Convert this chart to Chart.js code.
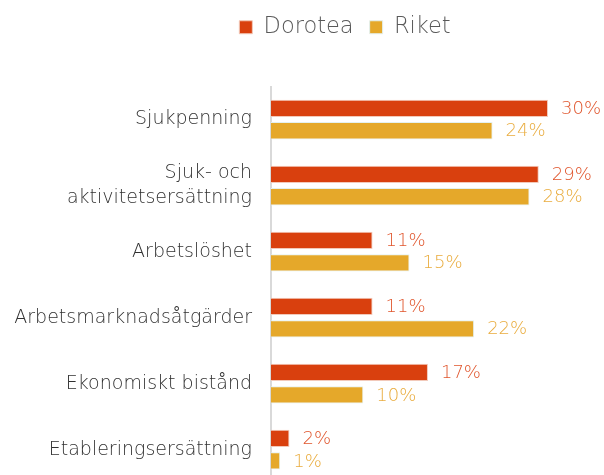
<!DOCTYPE html>
<html>
<head>
<meta charset="utf-8">
<script src="https://cdn.jsdelivr.net/npm/chart.js@4"></script>
<style>
  html, body { margin: 0; padding: 0; background: #fff; overflow: hidden; }
</style>
</head>
<body>
<canvas id="ersChart" width="604" height="514"></canvas>
<script>
// Ersättningar, andel per kategori
const categories = [
  'Sjukpenning',
  ['Sjuk- och', 'aktivitetsersättning'],
  'Arbetslöshet',
  'Arbetsmarknadsåtgärder',
  'Ekonomiskt bistånd',
  'Etableringsersättning'
];
const dorotea = [30, 29, 11, 11, 17, 2];
const riket = [24, 28, 15, 22, 10, 1];

const FONT = "'DejaVu Sans', sans-serif";

// value labels at the end of each bar
const valueLabels = {
  id: 'valueLabels',
  afterDatasetsDraw(chart) {
    const ctx = chart.ctx;
    ctx.save();
    ctx.font = '200 18px ' + FONT;
    ctx.textBaseline = 'middle';
    ctx.textAlign = 'left';
    chart.data.datasets.forEach((ds, i) => {
      const meta = chart.getDatasetMeta(i);
      ctx.fillStyle = ds.labelColor;
      meta.data.forEach((bar, j) => {
        ctx.fillText(ds.data[j] + '%', bar.x + 13, bar.y + 1);
      });
    });
    ctx.restore();
  }
};

// more room under the legend, and legend pushed a bit to the right
const legendTweak = {
  id: 'legendTweak',
  beforeInit(chart) {
    const fit = chart.legend.fit;
    chart.legend.fit = function () {
      fit.bind(chart.legend)();
      this.height += 38;
    };
  },
  afterLayout(chart) {
    chart.legend.left += 71;
    chart.legend.right += 71;
  }
};

new Chart(document.getElementById('ersChart'), {
  type: 'bar',
  data: {
    labels: categories,
    datasets: [{
      label: 'Dorotea',
      data: dorotea,
      backgroundColor: '#D9400E',
      borderColor: '#F2C9BA',
      borderWidth: 1,
      labelColor: '#E0552C'
    }, {
      label: 'Riket',
      data: riket,
      backgroundColor: '#E5A82A',
      borderColor: '#E3F1EF',
      borderWidth: 1,
      labelColor: '#E9AC3E'
    }]
  },
  options: {
    indexAxis: 'y',
    responsive: false,
    animation: false,
    categoryPercentage: 0.68,
    barPercentage: 0.77,
    layout: { padding: { top: 0, right: 56, bottom: 0, left: 0 } },
    scales: {
      x: { display: false, min: 0, max: 30 },
      y: {
        grid: { display: false, drawTicks: false },
        border: { display: true, color: '#D9D9D9', width: 2 },
        ticks: {
          color: '#303030',
          padding: 19,
          font: { family: FONT, size: 19, weight: '200', lineHeight: 1.3 }
        },
        afterFit(scale) { scale.width = 271; }
      }
    },
    plugins: {
      legend: {
        position: 'top',
        labels: {
          boxWidth: 13,
          boxHeight: 13,
          padding: 16,
          color: '#595959',
          font: { family: FONT, size: 22.5, weight: '200' }
        }
      },
      tooltip: { enabled: false }
    }
  },
  plugins: [valueLabels, legendTweak]
});
</script>
</body>
</html>
